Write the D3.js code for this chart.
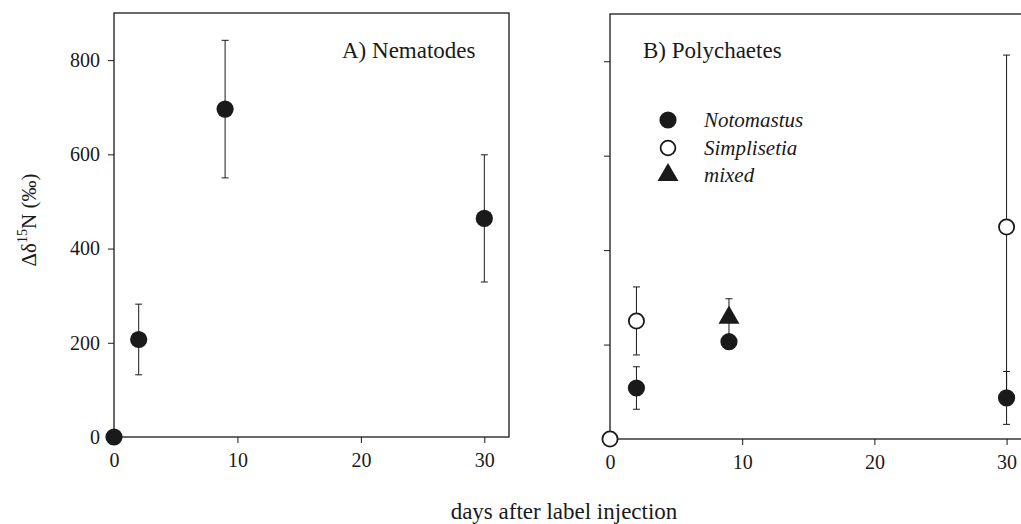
<!DOCTYPE html>
<html>
<head>
<meta charset="utf-8">
<script src="https://cdn.jsdelivr.net/npm/d3@7"></script>
<style>
  body { margin: 0; background: #fff; }
  svg { display: block; font-family: "Liberation Serif", "Times New Roman", serif; }
</style>
</head>
<body>
<svg width="1021" height="524"></svg>
<script>
// days after injection, delta values and error (half-width) per series
const nemaDays = [0, 2, 9, 30];
const nemaVals = [0, 207, 696, 464];
const nemaErr = [0, 75, 146, 135];

const notoDays = [2, 9, 30];
const notoVals = [108, 206, 87];
const notoErr = [45, 0, 56];

const simpDays = [0, 2, 30];
const simpVals = [0, 250, 449];
const simpErr = [0, 72, 364];

const mixDays = [9];
const mixVals = [257];
const mixErr = [40];

const xTicks = [0, 10, 20, 30];
const yTicks = [0, 200, 400, 600, 800];
const legendNames = ["Notomastus", "Simplisetia", "mixed"];

const ink = "#1a1a1a";
const serif = "Liberation Serif";
const svg = d3.select("svg");

// d3 axes default to sans-serif 10px, make them look like the print
function styleAxis(a) {
  a.select(".domain").remove();
  a.attr("font-family", serif).attr("font-size", 20);
  a.selectAll(".tick line").attr("stroke", ink);
  a.selectAll(".tick text").attr("fill", ink).attr("font-family", serif).attr("font-size", 20);
}

// build one panel, returns its scales and group
function panel(left, right, top, bottom, showYLabels) {
  const x = d3.scaleLinear().domain([0, 32]).range([left, right]);
  const y = d3.scaleLinear().domain([0, 900]).range([bottom, top]);
  const g = svg.append("g");

  g.append("g").attr("transform", `translate(0,${bottom})`)
    .call(d3.axisBottom(x).tickValues(xTicks).tickSize(6).tickSizeOuter(0).tickPadding(10))
    .call(styleAxis);
  const yAxis = d3.axisLeft(y).tickValues(yTicks).tickSize(6).tickSizeOuter(0).tickPadding(8);
  if (!showYLabels) yAxis.tickFormat("");
  g.append("g").attr("transform", `translate(${left},0)`)
    .call(yAxis)
    .call(styleAxis);

  // frame
  g.append("rect")
    .attr("x", left).attr("y", top)
    .attr("width", right - left).attr("height", bottom - top)
    .attr("fill", "none").attr("stroke", ink).attr("stroke-width", 1.3);
  return { x, y, g };
}

function errorBars(p, days, vals, errs) {
  days.forEach((d, i) => {
    if (!errs[i]) return;
    const cx = p.x(d), y1 = p.y(vals[i] + errs[i]), y0 = p.y(vals[i] - errs[i]);
    p.g.append("line").attr("x1", cx).attr("x2", cx).attr("y1", y1).attr("y2", y0)
      .attr("stroke", ink).attr("stroke-width", 1);
    [y1, y0].forEach(yy => p.g.append("line")
      .attr("x1", cx - 3.5).attr("x2", cx + 3.5).attr("y1", yy).attr("y2", yy)
      .attr("stroke", ink).attr("stroke-width", 1));
  });
}

function circles(p, days, vals, filled) {
  p.g.selectAll(null).data(days).enter().append("circle")
    .attr("cx", d => p.x(d))
    .attr("cy", (d, i) => p.y(vals[i]))
    .attr("r", filled ? 8.6 : 7.6)
    .attr("fill", filled ? ink : "#fff")
    .attr("stroke", ink).attr("stroke-width", filled ? 0 : 1.8);
}

function triangles(p, days, vals) {
  const sym = d3.symbol().type(d3.symbolTriangle).size(190);
  p.g.selectAll(null).data(days).enter().append("path")
    .attr("d", sym)
    .attr("transform", (d, i) => `translate(${p.x(d)},${p.y(vals[i])})`)
    .attr("fill", ink);
}

// A) Nematodes
const pA = panel(114, 509, 13, 437, true);
errorBars(pA, nemaDays, nemaVals, nemaErr);
circles(pA, nemaDays, nemaVals, true);
pA.g.append("text").attr("x", 342).attr("y", 58)
  .attr("font-size", 23).attr("fill", ink).text("A) Nematodes");

// B) Polychaetes
const pB = panel(610, 1033, 14, 439, false);
errorBars(pB, simpDays, simpVals, simpErr);
errorBars(pB, notoDays, notoVals, notoErr);
errorBars(pB, mixDays, mixVals, mixErr);
circles(pB, notoDays, notoVals, true);
circles(pB, simpDays, simpVals, false);
triangles(pB, mixDays, mixVals);
pB.g.append("text").attr("x", 643).attr("y", 58)
  .attr("font-size", 23).attr("fill", ink).text("B) Polychaetes");

// legend
const legY = [120, 148, 175];
const leg = svg.append("g");
leg.append("circle").attr("cx", 668).attr("cy", legY[0]).attr("r", 8.6).attr("fill", ink);
leg.append("circle").attr("cx", 668).attr("cy", legY[1]).attr("r", 7.4)
  .attr("fill", "#fff").attr("stroke", ink).attr("stroke-width", 1.8);
leg.append("path").attr("d", d3.symbol().type(d3.symbolTriangle).size(190))
  .attr("transform", `translate(668,${legY[2]})`).attr("fill", ink);
leg.selectAll("text").data(legendNames).enter().append("text")
  .attr("x", 704).attr("y", (d, i) => legY[i] + 7)
  .attr("font-size", 21).attr("font-style", "italic").attr("fill", ink)
  .text(d => d);

// y label
const yl = svg.append("text")
  .attr("transform", "translate(36,220) rotate(-90)")
  .attr("text-anchor", "middle").attr("font-size", 21).attr("fill", ink);
yl.append("tspan").text("Δδ");
yl.append("tspan").attr("font-size", 14).attr("dy", -9).text("15");
yl.append("tspan").attr("dy", 9).text("N (‰)");

// x label
svg.append("text").attr("x", 564).attr("y", 519)
  .attr("text-anchor", "middle").attr("font-size", 23).attr("fill", ink)
  .text("days after label injection");
</script>
</body>
</html>
